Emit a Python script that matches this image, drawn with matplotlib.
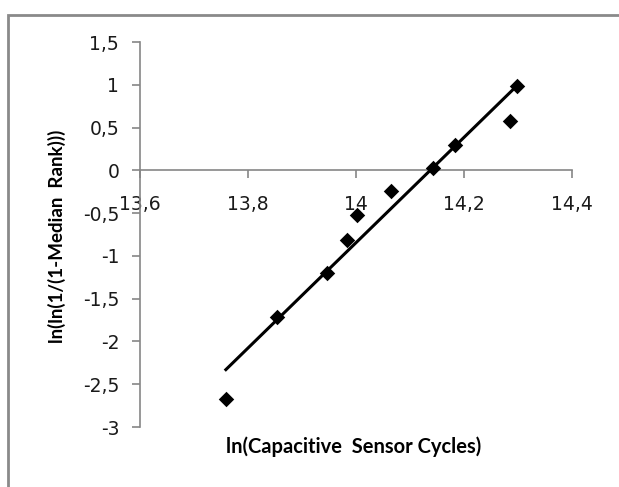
import matplotlib
matplotlib.use("Agg")
import matplotlib.pyplot as plt
import numpy as np
from matplotlib.patches import Rectangle

# Data
x_cycles = [13.759, 13.853, 13.947, 13.984, 14.002, 14.064, 14.142, 14.183, 14.285, 14.299]
y_rank = [-2.67, -1.72, -1.20, -0.82, -0.52, -0.24, 0.03, 0.30, 0.58, 0.99]

x_ticks = [13.6, 13.8, 14.0, 14.2, 14.4]
x_tick_labels = ["13,6", "13,8", "14", "14,2", "14,4"]
y_ticks = [-3, -2.5, -2, -1.5, -1, -0.5, 0, 0.5, 1, 1.5]
y_tick_labels = ["-3", "-2,5", "-2", "-1,5", "-1", "-0,5", "0", "0,5", "1", "1,5"]

x_label = "ln(Capacitive  Sensor Cycles)"
y_label = "ln(ln(1/(1-Median  Rank)))"

W, H = 619, 487
fig = plt.figure(figsize=(W / 100, H / 100), dpi=100)
fig.patch.set_facecolor("white")

# chart-area border (extends beyond right and bottom edges)
fig.patches.append(Rectangle((7.5 / W, -0.2), 1.2, 1 - 15 / H + 0.2,
                             transform=fig.transFigure, fill=False,
                             edgecolor="#8a8a8a", linewidth=2.0))

left, right, top, bottom = 140, 572, 42, 427
ax = fig.add_axes([left / W, 1 - bottom / H, (right - left) / W, (bottom - top) / H])
ax.set_xlim(13.6, 14.4)
ax.set_ylim(-3, 1.5)

axis_col = "#868686"
for s in ["top", "right"]:
    ax.spines[s].set_visible(False)
ax.spines["left"].set_color(axis_col)
ax.spines["bottom"].set_color(axis_col)
ax.spines["bottom"].set_position(("data", 0))
ax.spines["left"].set_linewidth(1.2)
ax.spines["bottom"].set_linewidth(1.2)

tick_font = dict(family="DejaVu Sans", size=13.5)
ax.set_xticks(x_ticks)
ax.set_xticklabels(x_tick_labels, **tick_font)
ax.set_yticks(y_ticks)
ax.set_yticklabels(y_tick_labels, **tick_font)
ax.tick_params(axis="both", color=axis_col, width=1.2, length=6, labelcolor="#1a1a1a")
ax.tick_params(axis="x", pad=12)
ax.tick_params(axis="y", pad=9)

# trendline (least squares)
coef = np.polyfit(x_cycles, y_rank, 1)
xl = np.array([min(x_cycles), max(x_cycles)])
ax.plot(xl, np.polyval(coef, xl), color="black", linewidth=2.2, zorder=2)

ax.scatter(x_cycles, y_rank, marker="D", s=62, color="black", zorder=3, linewidths=0)

fig.text(354 / W, 1 - 447 / H, x_label, ha="center", va="center",
         family="Lato", weight="bold", size=14.5, color="black")
fig.text(57 / W, 1 - 236 / H, y_label, ha="center", va="center", rotation=90,
         family="Lato", weight="bold", size=13.5, color="black")

fig.savefig("out.png", dpi=100)
